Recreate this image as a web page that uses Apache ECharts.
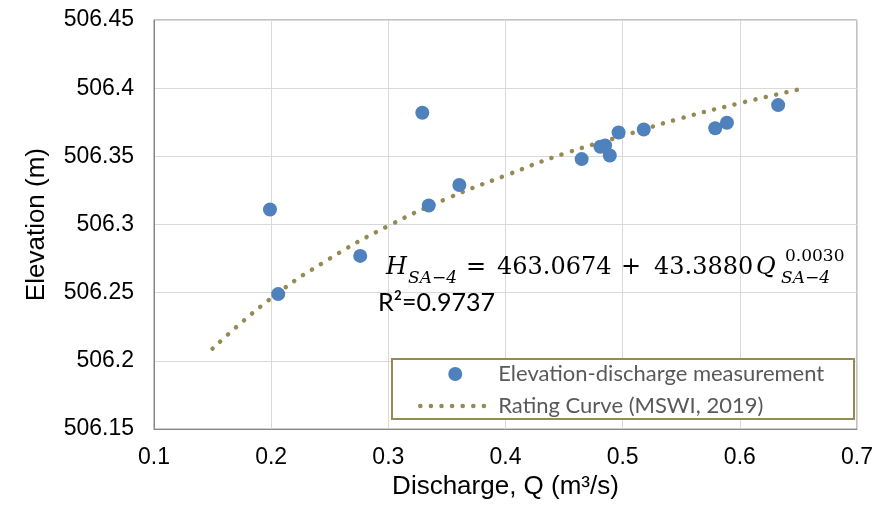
<!DOCTYPE html>
<html>
<head>
<meta charset="utf-8">
<title>Elevation-discharge rating curve</title>
<script src="https://cdn.jsdelivr.net/npm/echarts@6/dist/echarts.min.js"></script>
<style>
  html, body { margin: 0; padding: 0; background: #ffffff; }
  #chart { width: 876px; height: 505px; }
</style>
</head>
<body>
<div id="chart"></div>
<script>
// Measured discharge (m3/s) and water-surface elevation (m)
const measuredQ = [0.199, 0.206, 0.276, 0.329, 0.3345, 0.3606, 0.465, 0.481, 0.485, 0.489, 0.4965, 0.518, 0.579, 0.589, 0.6327];
const measuredH = [506.311, 506.249, 506.277, 506.382, 506.314, 506.329, 506.348, 506.357, 506.358, 506.3506, 506.3675, 506.3697, 506.3706, 506.3747, 506.3876];

// Rating curve (MSWI, 2019)
const curveQ = [0.15, 0.20, 0.25, 0.30, 0.35, 0.40, 0.45, 0.50, 0.55, 0.60, 0.65];
const curveH = [506.209, 506.246, 506.275, 506.299, 506.319, 506.336, 506.352, 506.365, 506.378, 506.389, 506.399];

// Axis ranges and ticks
const xMin = 0.1, xMax = 0.7, xStep = 0.1;
const yMin = 506.15, yMax = 506.45, yStep = 0.05;

const seriesNames = ['Elevation-discharge measurement', 'Rating Curve (MSWI, 2019)'];

const axisGray = '#878787';
const gridGray = '#d9d9d9';
const olive = '#948A54';
const blue = '#4F81BD';
const sans = '"Liberation Sans", Arial, sans-serif';
const serif = '"DejaVu Serif", serif';
const dotted = { color: olive, width: 4.5, type: [0.1, 10.5], cap: 'round' };

const chart = echarts.init(document.getElementById('chart'), null, { renderer: 'canvas' });

const option = {
  backgroundColor: '#ffffff',
  animation: false,
  grid: {
    left: 154, right: 16, top: 20, bottom: 66,
    show: true, borderColor: axisGray, borderWidth: 1, backgroundColor: 'transparent'
  },
  xAxis: {
    type: 'value', min: xMin, max: xMax, interval: xStep,
    name: 'Discharge, Q (m³/s)',
    nameLocation: 'middle', nameGap: 28,
    nameTextStyle: { fontFamily: sans, fontSize: 26, color: '#000', verticalAlign: 'top' },
    axisLine: { show: true, lineStyle: { color: axisGray, width: 1 } },
    axisTick: { show: false },
    axisLabel: {
      margin: 17, fontFamily: sans, fontSize: 23, color: '#000',
      formatter: v => String(+v.toFixed(2))
    },
    splitLine: { show: true, lineStyle: { color: gridGray, width: 1 } }
  },
  yAxis: {
    type: 'value', min: yMin, max: yMax, interval: yStep,
    name: 'Elevation (m)',
    nameLocation: 'middle', nameGap: 104, nameRotate: 90,
    nameTextStyle: { fontFamily: sans, fontSize: 26, color: '#000' },
    axisLine: { show: true, lineStyle: { color: axisGray, width: 1 } },
    axisTick: { show: false },
    axisLabel: {
      margin: 20, fontFamily: sans, fontSize: 23, color: '#000',
      formatter: v => String(+v.toFixed(2))
    },
    splitLine: { show: true, lineStyle: { color: gridGray, width: 1 } }
  },
  legend: {
    orient: 'vertical',
    left: 418, top: 363,
    padding: 0,
    itemWidth: 70, itemHeight: 14, itemGap: 10,
    textStyle: { fontFamily: 'Lato, "Open Sans", sans-serif', fontSize: 22, lineHeight: 22, color: '#595959', padding: [0, 0, 0, 3] },
    data: [
      { name: seriesNames[0] },
      { name: seriesNames[1], itemStyle: { opacity: 0 }, lineStyle: dotted }
    ],
    z: 10
  },
  graphic: [
    // legend frame
    {
      type: 'rect', z: 5, silent: true,
      shape: { x: 392, y: 359, width: 462, height: 60 },
      style: { fill: '#ffffff', stroke: olive, lineWidth: 2 }
    },
    // fitted equation
    { type: 'text', z: 6, left: 386, top: 256,
      style: { text: 'H', font: 'italic 24px ' + serif, fill: '#000' } },
    { type: 'text', z: 6, left: 408, top: 270,
      style: { text: 'SA−4', font: 'italic 17px ' + serif, fill: '#000' } },
    { type: 'text', z: 6, left: 466, top: 256,
      style: { text: '=', font: '24px ' + serif, fill: '#000' } },
    { type: 'text', z: 6, left: 497, top: 256,
      style: { text: '463.0674', font: '24px ' + serif, fill: '#000' } },
    { type: 'text', z: 6, left: 621, top: 256,
      style: { text: '+', font: '24px ' + serif, fill: '#000' } },
    { type: 'text', z: 6, left: 654, top: 256,
      style: { text: '43.3880', font: '24px ' + serif, fill: '#000' } },
    { type: 'text', z: 6, left: 756, top: 256,
      style: { text: 'Q', font: 'italic 24px ' + serif, fill: '#000' } },
    { type: 'text', z: 6, left: 785, top: 248,
      style: { text: '0.0030', font: '17px ' + serif, fill: '#000' } },
    { type: 'text', z: 6, left: 781, top: 270,
      style: { text: 'SA−4', font: 'italic 17px ' + serif, fill: '#000' } },
    { type: 'text', z: 6, left: 378, top: 290,
      style: { text: 'R²=0.9737', font: '25px Lato, sans-serif', fill: '#000' } }
  ],
  series: [
    {
      name: seriesNames[0],
      type: 'scatter',
      data: measuredQ.map((q, i) => [q, measuredH[i]]),
      symbol: 'circle', symbolSize: 14,
      itemStyle: { color: blue, opacity: 1 },
      z: 4
    },
    {
      name: seriesNames[1],
      type: 'line',
      data: curveQ.map((q, i) => [q, curveH[i]]),
      smooth: true,
      showSymbol: false, symbol: 'none',
      itemStyle: { color: olive },
      lineStyle: dotted,
      z: 3
    }
  ]
};

chart.setOption(option);
</script>
</body>
</html>
